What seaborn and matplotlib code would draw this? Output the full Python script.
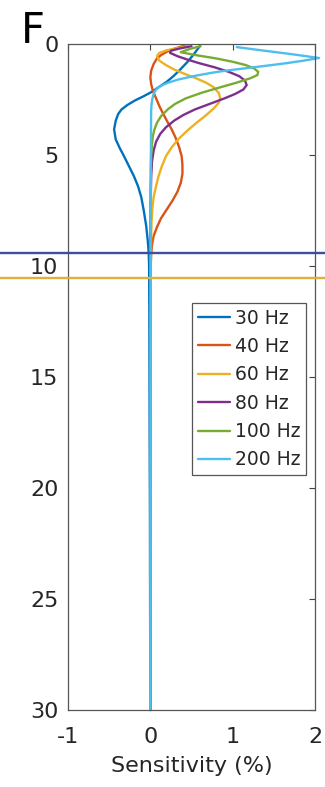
import numpy as np
import pandas as pd
import matplotlib
matplotlib.use("Agg")
import matplotlib.pyplot as plt
import seaborn as sns

sns.set_theme(style="white")
plt.rcParams['font.family'] = ['DejaVu Sans']

# ---- data (depth, sensitivity %) ----
freq_labels = ["30 Hz", "40 Hz", "60 Hz", "80 Hz", "100 Hz", "200 Hz"]
colors = ["#0072BD", "#D95319", "#EDB120", "#7E2F8E", "#77AC30", "#4DBEEE"]

depth_30 = [0.10, 0.50, 0.85, 1.20, 1.45, 1.70, 1.90, 2.15, 2.35, 2.55, 2.75, 2.95, 3.15, 3.45, 3.85, 4.30, 4.70, 5.05, 5.50, 5.95, 6.40, 6.90, 7.50, 8.20, 8.90, 9.40, 10.0, 12.0, 15.0, 18.0, 21.0, 25.0, 30.0]
sens_30 = [0.60, 0.52, 0.44, 0.35, 0.28, 0.20, 0.12, 0.02, -0.08, -0.19, -0.28, -0.35, -0.39, -0.42, -0.44, -0.42, -0.37, -0.32, -0.26, -0.20, -0.15, -0.11, -0.08, -0.05, -0.03, -0.02, -0.015, -0.012, -0.010, -0.008, -0.005, -0.003, 0.0]

depth_40 = [0.07, 0.20, 0.35, 0.50, 0.65, 0.90, 1.20, 1.50, 1.80, 2.10, 2.45, 2.80, 3.10, 3.45, 3.85, 4.25, 4.65, 5.05, 5.45, 5.85, 6.25, 6.65, 7.05, 7.45, 7.85, 8.25, 8.65, 9.05, 9.50, 10.0, 12.0, 15.0, 20.0, 25.0, 30.0]
sens_40 = [0.42, 0.30, 0.20, 0.13, 0.08, 0.04, 0.01, 0.00, 0.01, 0.03, 0.07, 0.11, 0.15, 0.20, 0.26, 0.31, 0.35, 0.38, 0.39, 0.39, 0.37, 0.33, 0.27, 0.20, 0.13, 0.08, 0.04, 0.02, 0.01, 0.005, 0.003, 0.002, 0.001, 0.0, 0.0]

depth_60 = [0.10, 0.18, 0.28, 0.40, 0.55, 0.75, 0.95, 1.15, 1.35, 1.55, 1.75, 1.95, 2.20, 2.45, 2.65, 2.90, 3.20, 3.55, 3.90, 4.25, 4.65, 5.05, 5.50, 5.95, 6.40, 6.90, 7.40, 8.0, 9.0, 10.0, 15.0, 20.0, 30.0]
sens_60 = [0.46, 0.34, 0.20, 0.11, 0.08, 0.11, 0.19, 0.29, 0.42, 0.56, 0.68, 0.77, 0.83, 0.85, 0.83, 0.77, 0.68, 0.56, 0.45, 0.35, 0.26, 0.19, 0.14, 0.10, 0.07, 0.04, 0.025, 0.015, 0.008, 0.005, 0.002, 0.001, 0.0]

depth_80 = [0.10, 0.20, 0.30, 0.40, 0.55, 0.70, 0.85, 1.05, 1.25, 1.45, 1.65, 1.85, 2.05, 2.25, 2.45, 2.70, 2.95, 3.20, 3.45, 3.75, 4.05, 4.40, 4.80, 5.30, 6.0, 7.0, 8.5, 10.0, 15.0, 20.0, 30.0]
sens_80 = [0.50, 0.36, 0.25, 0.24, 0.33, 0.45, 0.58, 0.78, 0.95, 1.08, 1.15, 1.17, 1.13, 1.03, 0.90, 0.72, 0.54, 0.40, 0.29, 0.19, 0.12, 0.07, 0.04, 0.02, 0.01, 0.005, 0.003, 0.002, 0.001, 0.0, 0.0]

depth_100 = [0.10, 0.22, 0.37, 0.50, 0.65, 0.80, 0.95, 1.10, 1.25, 1.40, 1.55, 1.75, 1.95, 2.20, 2.45, 2.70, 2.95, 3.25, 3.55, 3.85, 4.15, 4.50, 5.00, 5.60, 6.5, 8.0, 10.0, 15.0, 20.0, 30.0]
sens_100 = [0.61, 0.48, 0.37, 0.55, 0.80, 1.00, 1.16, 1.26, 1.31, 1.30, 1.21, 1.04, 0.85, 0.62, 0.43, 0.30, 0.21, 0.13, 0.08, 0.05, 0.03, 0.02, 0.01, 0.006, 0.004, 0.002, 0.001, 0.0, 0.0, 0.0]

depth_200 = [0.14, 0.30, 0.45, 0.63, 0.75, 0.86, 0.96, 1.05, 1.15, 1.22, 1.30, 1.45, 1.60, 1.75, 1.90, 2.05, 2.20, 2.45, 2.70, 3.0, 4.0, 6.0, 10.0, 15.0, 20.0, 25.0, 30.0]
sens_200 = [1.05, 1.38, 1.70, 2.05, 1.86, 1.66, 1.45, 1.25, 1.03, 0.88, 0.74, 0.52, 0.34, 0.21, 0.12, 0.07, 0.045, 0.025, 0.015, 0.01, 0.008, 0.006, 0.005, 0.004, 0.003, 0.002, 0.0]

depths = [depth_30, depth_40, depth_60, depth_80, depth_100, depth_200]
sens = [sens_30, sens_40, sens_60, sens_80, sens_100, sens_200]

line_depths = [9.4, 10.55]
line_colors = ["#3b4f9c", "#ddb13c"]

x_ticks = [-1, 0, 1, 2]
y_ticks = [0, 5, 10, 15, 20, 25, 30]

frames = []
for lab, d, s in zip(freq_labels, depths, sens):
    frames.append(pd.DataFrame({"depth": d, "sens": s, "freq": lab}))
df = pd.concat(frames, ignore_index=True)

# ---- figure ----
W, H = 325, 787
fig = plt.figure(figsize=(W / 100, H / 100), dpi=100)
ax = fig.add_axes([68 / W, 1 - 710 / H, (315 - 68) / W, (710 - 44) / H])

sns.lineplot(data=df, x="sens", y="depth", hue="freq", hue_order=freq_labels,
             palette=colors, orient="y", estimator=None, linewidth=1.7, ax=ax)
for ln in ax.lines:
    ln.set_clip_on(False)
    ln.set_solid_joinstyle("round")

for yd, c in zip(line_depths, line_colors):
    ax.axhline(yd, xmin=-0.4, xmax=1.2, color=c, linewidth=1.7, clip_on=False, zorder=5)

ax.set_xlim(-1, 2)
ax.set_ylim(30, 0)
ax.set_xticks(x_ticks)
ax.set_xticklabels([str(t) for t in x_ticks])
ax.set_yticks(y_ticks)
ax.set_yticklabels([str(t) for t in y_ticks])
ax.set_ylabel("")
ax.set_xlabel("Sensitivity (%)", fontsize=16, color="#262626", labelpad=7)

ax.tick_params(axis="both", direction="in", top=True, right=True, length=4,
               width=0.8, color="#404040", labelsize=16, labelcolor="#262626")
ax.tick_params(axis="x", pad=12)
ax.tick_params(axis="y", pad=7)
for sp in ax.spines.values():
    sp.set_visible(True)
    sp.set_color("#555555")
    sp.set_linewidth(0.9)

leg = ax.get_legend()
handles = leg.legend_handles
labels = [t.get_text() for t in leg.get_texts()]
leg.remove()
lg = ax.legend(handles, labels, loc="upper left",
               bbox_to_anchor=((192 - 68) / 247, 1 - (303 - 44) / 666),
               fontsize=13.5, frameon=True, fancybox=False, framealpha=1,
               edgecolor="#555555", borderpad=0.3, labelspacing=0.5,
               handlelength=1.7, handletextpad=0.3, borderaxespad=0)
lg.get_frame().set_linewidth(0.9)
for h in lg.legend_handles:
    h.set_linewidth(1.7)

fig.text(21 / W, 1 - 43 / H, "F", fontsize=30, color="black", va="baseline", ha="left")

fig.savefig("out.png", dpi=100)
